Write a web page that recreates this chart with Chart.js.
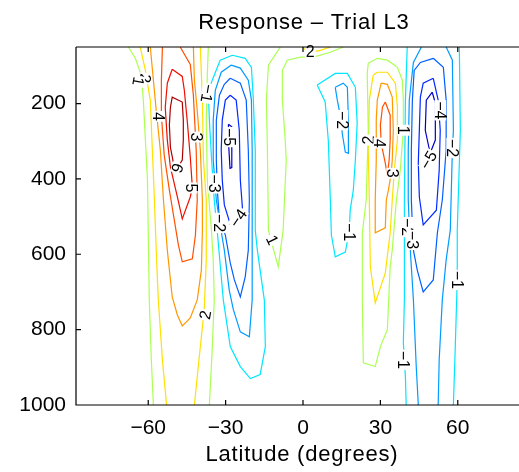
<!DOCTYPE html>
<html>
<head>
<meta charset="utf-8">
<script src="https://cdn.jsdelivr.net/npm/chart.js@4.4.1/dist/chart.umd.min.js"></script>
<style>
  html, body { margin: 0; padding: 0; background: #fff; overflow: hidden; }
  #wrap { position: relative; width: 540px; height: 472px; }
</style>
</head>
<body>
<div id="wrap"><canvas id="c"></canvas></div>
<script>
// axis ticks
const xTicks = [-60, -30, 0, 30, 60];
const yTicks = [200, 400, 600, 800, 1000];

// contour levels -> colour (jet-like)
const levelColor = {
  '-5': '#0000c4', '-4': '#0028ff', '-3': '#0060ff', '-2': '#009cff', '-1': '#00e6ff',
  '1': '#acff52', '2': '#ffe000', '3': '#ff9800', '4': '#ff5000', '5': '#ee1000', '6': '#aa0000'
};

// contour lines, [latitude, pressure] pairs
// southern hemisphere, positive cell
const sPos1a = [[-67.7,50],[-65,80],[-62.7,125],[-61.9,191],[-61.1,297],[-60.3,403],[-60,536],[-59.6,721],[-58.8,880],[-58,1000]];
const sPos1b = [[-36.7,50],[-37.1,125],[-37.5,244],[-37.1,403],[-35.5,536],[-34.8,615],[-34.4,721],[-35.2,853],[-36.3,1000]];
const sPos2a = [[-63.1,50],[-61.1,112],[-59.2,191],[-58.4,324],[-57.6,456],[-56.9,589],[-56.1,721],[-54.5,880],[-52.9,1000]];
const sPos2b = [[-39.8,50],[-39,191],[-38.6,350],[-37.5,456],[-37.5,615],[-38.3,747],[-40.6,898],[-42.1,1000]];
const sPos3 = [[-59.2,50],[-58,138],[-56.9,218],[-55.3,324],[-54.1,456],[-52.6,589],[-50.7,713],[-48.7,761],[-46.8,790],
  [-43.7,769],[-41,721],[-39.4,642],[-39,536],[-39,456],[-39.8,324],[-41,218],[-42.1,138],[-42.5,50]];
const sPos4 = [[-54.5,50],[-54.9,138],[-54.9,231],[-53.8,337],[-51.8,430],[-49.9,509],[-48.3,576],[-46.8,620],
  [-42.9,612],[-41.7,549],[-41,456],[-41.4,324],[-42.5,178],[-43.7,96],[-47.6,50]];
const sPos5 = [[-50.7,109],[-46.8,128],[-46,165],[-44.8,252],[-43.7,342],[-42.9,422],[-43.7,448],[-46.8,506],
  [-48.7,448],[-51.4,369],[-52.6,297],[-53.4,210],[-52.6,146],[-50.7,109]];
const sPos6 = [[-50.3,355],[-51.4,316],[-51.8,257],[-51.4,210],[-50.7,183],[-46.8,196],[-46.4,244],[-46.4,297],
  [-46.8,350],[-48.7,371],[-50.3,355]];
// southern hemisphere, negative cell
const sNeg1 = [[-27.4,72],[-22.4,80],[-20,104],[-19.3,183],[-18.5,324],[-18.5,536],[-17.7,589],[-15,721],[-14.6,845],
  [-16.6,919],[-20.4,930],[-24.3,898],[-28.2,845],[-30.9,721],[-33.2,543],[-34.4,456],[-35.5,342],[-36.3,244],
  [-36.7,170],[-35.2,138],[-32.1,85],[-27.4,72]];
const sNeg2 = [[-27.8,98],[-24.3,106],[-21.2,138],[-20,191],[-19.7,324],[-19.7,456],[-19.7,589],[-19.7,721],[-20.8,819],
  [-24.3,806],[-27,747],[-28.6,695],[-30.5,589],[-32.1,523],[-33.6,456],[-34.8,350],[-34.8,244],[-34,165],[-31.7,117],[-27.8,98]];
const sNeg3 = [[-28.2,133],[-24.3,146],[-22,191],[-21.2,324],[-20.8,456],[-21.2,589],[-22.4,660],[-24.3,713],[-26.6,668],
  [-28.2,623],[-30.1,549],[-32.4,509],[-33.2,430],[-33.6,350],[-33.6,244],[-32.4,178],[-30.5,149],[-28.2,133]];
const sNeg4 = [[-28.2,178],[-25.9,191],[-24.7,271],[-24.3,403],[-23.5,475],[-25.1,512],[-28.2,520],[-30.5,469],
  [-31.3,403],[-31.7,324],[-31.3,244],[-30.1,191],[-28.2,178]];
const sNeg5 = [[-28.9,255],[-27.6,262],[-27.6,370],[-28.3,372],[-28.9,300],[-28.9,255]];
// tropics
const eqPos1 = [[-8.8,50],[-13.4,98],[-14.2,191],[-13.8,324],[-13.4,536],[-11.9,576],[-9.6,633],[-7.7,536],[-6.5,350],
  [-6.9,297],[-8,191],[-8,112],[-6.1,85],[-1,77],[4,77],[10.6,64],[15.6,50]];
const eqPos2 = [[-0.3,50],[1.3,59],[2.8,64],[6.7,59],[10.6,50]];
const nNegA1 = [[5.5,151],[12.5,120],[17.2,120],[20.3,157],[21,252],[20.3,350],[19.5,430],[18.3,483],[17.9,541],
  [16.4,594],[12.5,607],[11,549],[10.6,456],[9.8,297],[8.6,196],[5.5,151]];
const nNegA2 = [[12.5,157],[15.6,146],[17.2,157],[17.6,244],[17.6,332],[16.4,329],[15.2,279],[14.8,244],[13.3,191],[12.5,157]];
// northern hemisphere, positive cell
const nPos1 = [[25.3,93],[28.8,80],[32.7,85],[36.6,104],[38.5,138],[38.9,191],[38.9,271],[37.7,377],[36.2,456],[34.6,589],
  [33.8,633],[32.7,800],[30,845],[28,898],[23.4,888],[23,721],[23,543],[24.5,456],[25.3,271],[24.9,120],[25.3,93]];
const nPos2 = [[27.2,125],[28.8,117],[32.7,117],[35.8,146],[36.6,210],[36.6,297],[35.4,377],[34.6,456],[33.8,543],
  [31.9,650],[28,729],[26.1,633],[25.7,456],[25.3,324],[25.7,191],[27.2,125]];
const nPos3 = [[30.3,146],[32.7,149],[34.6,183],[35,271],[34.6,350],[34.2,385],[33.1,430],[32.3,456],[31.9,530],
  [28,543],[28,456],[28.4,350],[28.4,244],[28.8,191],[30.3,146]];
const nPos4 = [[31.9,196],[33.8,231],[33.8,297],[33.4,350],[32.7,390],[31.9,358],[30.3,305],[30,257],[30.8,210],[31.9,196]];
// northern hemisphere, negative cell
const nNeg1a = [[40.4,50],[39.7,191],[39.3,456],[39.3,721],[38.9,835],[39.7,925],[40,1000]];
const nNeg1b = [[60.6,50],[61,271],[59.8,536],[59.8,668],[59,853],[58.3,1000]];
const nNeg2a = [[45.9,50],[42.8,91],[41.2,191],[40.8,324],[40.8,456],[41.6,589],[42.8,721],[43.9,898],[44.7,1000]];
const nNeg2b = [[55.5,50],[57.9,85],[58.3,271],[57.9,324],[57.1,536],[55.5,615],[54,721],[52.8,880],[52.4,1000]];
const nNeg3 = [[50.5,80],[54.4,104],[55.5,191],[55.5,324],[54,456],[52.1,543],[50.5,668],[46.6,700],[44.3,642],
  [42.8,589],[42,456],[42,324],[42.4,191],[43.1,112],[45.5,91],[50.5,80]];
const nNeg4 = [[50.5,133],[52.4,191],[53.2,271],[52.8,377],[51.7,483],[46.6,522],[45.1,448],[44.7,358],[45.5,183],[46.6,146],[50.5,133]];
const nNeg5 = [[50.1,170],[51.3,199],[51.3,297],[49.3,332],[47.4,271],[47.8,191],[50.1,170]];

const contourLines = [
  [1, sPos1a], [1, sPos1b], [2, sPos2a], [2, sPos2b], [3, sPos3], [4, sPos4], [5, sPos5], [6, sPos6],
  [-1, sNeg1], [-2, sNeg2], [-3, sNeg3], [-4, sNeg4], [-5, sNeg5],
  [1, eqPos1], [2, eqPos2], [-1, nNegA1], [-2, nNegA2],
  [1, nPos1], [2, nPos2], [3, nPos3], [4, nPos4],
  [-1, nNeg1a], [-1, nNeg1b], [-2, nNeg2a], [-2, nNeg2b], [-3, nNeg3], [-4, nNeg4], [-5, nNeg5]
];

// contour labels: text, latitude, pressure, rotation (deg)
const contourLabels = [
  ['2', -61.1, 133, 100], ['1', -63.8, 141, 100], ['4', -56.1, 234, 90], ['3', -41.4, 289, 90],
  ['6', -48.7, 371, 110], ['5', -43.3, 424, 90], ['2', -37.9, 761, -80], ['\u22121', -37.1, 173, 100],
  ['\u22125', -28.6, 289, 90], ['\u22123', -34.4, 412, 90], ['\u22124', -25.1, 504, -55], ['\u22122', -32.4, 517, 90],
  ['1', -11.9, 562, 65], ['2', 2.8, 63, 0], ['\u22122', 15.2, 244, 90], ['\u22121', 17.9, 541, 90],
  ['2', 25.3, 297, -90], ['4', 29.6, 305, 90], ['1', 38.9, 271, 90], ['3', 34.6, 385, 90],
  ['\u22124', 53.2, 218, 90], ['\u22125', 48.6, 350, -60], ['\u22122', 57.9, 318, 90], ['\u22122', 40.4, 528, 90],
  ['\u22123', 42.4, 562, 90], ['\u22121', 38.9, 880, 90], ['\u22121', 59.8, 668, 90]
];

const FONT = '"Liberation Sans", Arial, Helvetica, sans-serif';

const decor = {
  id: 'decor',
  afterDatasetsDraw(chart) {
    const { ctx, chartArea: a, scales: { x, y } } = chart;
    ctx.save();
    // contour labels with a small gap in the line
    ctx.font = '16px ' + FONT;
    ctx.textAlign = 'center';
    ctx.textBaseline = 'middle';
    contourLabels.forEach(([t, lat, p, rot]) => {
      const px = x.getPixelForValue(lat), py = y.getPixelForValue(p);
      const w = ctx.measureText(t).width;
      ctx.save();
      ctx.translate(px, py);
      ctx.rotate(rot * Math.PI / 180);
      ctx.fillStyle = '#fff';
      ctx.fillRect(-w / 2 - 1, -6, w + 2, 12);
      ctx.fillStyle = '#000';
      ctx.fillText(t, 0, 1);
      ctx.restore();
    });
    // axes box (left, bottom, top) with inward ticks
    ctx.strokeStyle = '#000';
    ctx.lineWidth = 1.2;
    ctx.beginPath();
    ctx.moveTo(a.left, a.top); ctx.lineTo(a.left, a.bottom); ctx.lineTo(a.right, a.bottom);
    ctx.moveTo(a.left, a.top); ctx.lineTo(a.right, a.top);
    xTicks.forEach(v => {
      const px = x.getPixelForValue(v);
      ctx.moveTo(px, a.bottom); ctx.lineTo(px, a.bottom - 5);
      ctx.moveTo(px, a.top); ctx.lineTo(px, a.top + 5);
    });
    yTicks.forEach(v => {
      const py = y.getPixelForValue(v);
      ctx.moveTo(a.left, py); ctx.lineTo(a.left + 5, py);
    });
    ctx.stroke();
    // title and x label
    ctx.fillStyle = '#000';
    ctx.font = '22px ' + FONT;
    ctx.textAlign = 'center';
    ctx.textBaseline = 'alphabetic';
    ctx.letterSpacing = '0.8px';
    ctx.fillText('Response \u2013 Trial L3', 304, 28.5);
    ctx.fillText('Latitude (degrees)', 302, 460.5);
    ctx.restore();
  }
};

new Chart(document.getElementById('c'), {
  type: 'scatter',
  data: {
    datasets: contourLines.map(([lev, pts]) => ({
      data: pts.map(([lat, p]) => ({ x: lat, y: p })),
      showLine: true,
      borderColor: levelColor[lev],
      borderWidth: 1.2,
      pointRadius: 0,
      fill: false,
      tension: 0
    }))
  },
  options: {
    responsive: true,
    maintainAspectRatio: false,
    animation: false,
    layout: { padding: { left: 0, right: 10, top: 47, bottom: 0 } },
    plugins: { legend: { display: false }, tooltip: { enabled: false }, title: { display: false } },
    scales: {
      x: {
        type: 'linear', min: -88, max: 88,
        grid: { display: false, drawTicks: false }, border: { display: false },
        afterBuildTicks: s => { s.ticks = xTicks.map(v => ({ value: v })); },
        afterFit: s => { s.height = 67; },
        ticks: {
          autoSkip: false, maxRotation: 0, padding: 11, color: '#000',
          font: { family: FONT, size: 21 },
          callback: v => (v < 0 ? '\u2212' + Math.abs(v) : '' + v)
        }
      },
      y: {
        type: 'linear', reverse: true, min: 50, max: 1000,
        grid: { display: false, drawTicks: false }, border: { display: false },
        afterBuildTicks: s => { s.ticks = yTicks.map(v => ({ value: v })); },
        afterFit: s => { s.width = 76; },
        ticks: {
          autoSkip: false, padding: 10, color: '#000',
          font: { family: FONT, size: 21 },
          callback: v => '' + v
        }
      }
    }
  },
  plugins: [decor]
});
</script>
</body>
</html>
